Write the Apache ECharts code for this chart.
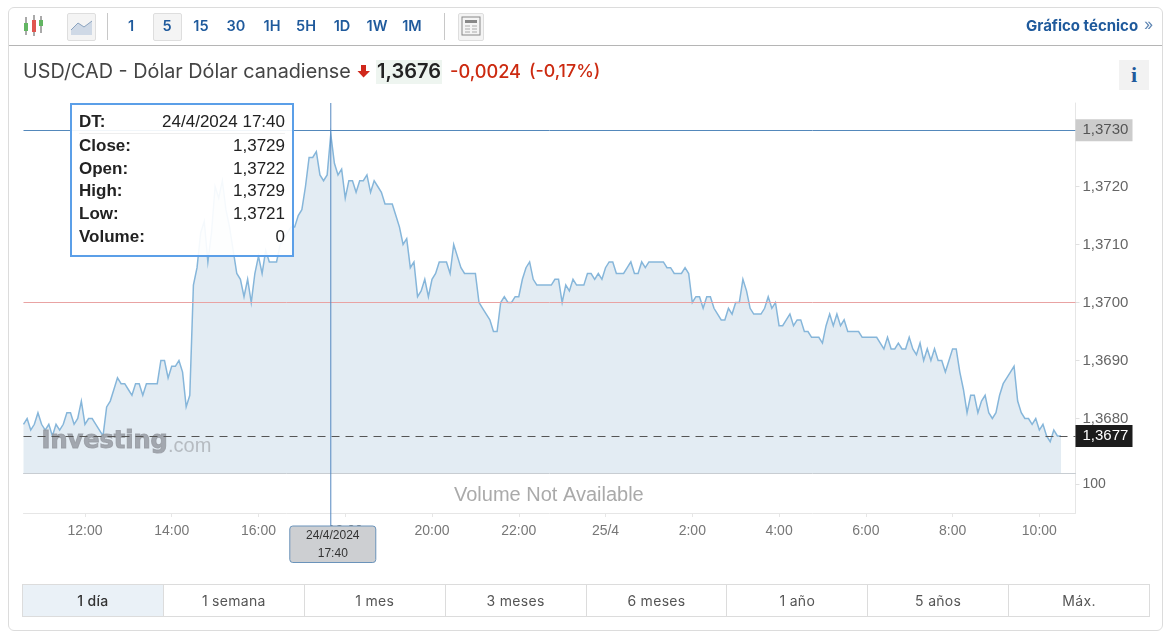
<!DOCTYPE html>
<html>
<head>
<meta charset="utf-8">
<title>USD/CAD</title>
<script src="https://cdn.jsdelivr.net/npm/echarts@6/dist/echarts.min.js"></script>
<style>
  html, body { margin: 0; padding: 0; background: #fff; }
  body { width: 1170px; height: 638px; position: relative; overflow: hidden; font-family: Inter, "Noto Sans", sans-serif; }
  .card { position: absolute; left: 8px; top: 7px; width: 1153px; height: 622px; border: 1px solid #dcdcdc; border-radius: 6px; box-sizing: content-box; pointer-events: none; }
  #chart { position: absolute; left: 0; top: 0; width: 1170px; height: 638px; }
  .abs { position: absolute; }
  .bar-line { position: absolute; left: 9px; top: 45px; width: 1153px; height: 1px; background: #b5b5b5; }
  .sep { position: absolute; top: 13px; width: 1px; height: 27px; background: #c8c8c8; }
  .res { position: absolute; top: 17px; font-size: 14.5px; font-weight: 600; color: #1f5a9c; transform: translateX(-50%); line-height: 18px; }
  .btn { position: absolute; top: 13px; height: 26px; border: 1px solid #dedede; border-radius: 2px; background: #f4f4f4; }
  .title { position: absolute; left: 23px; top: 60px; font-size: 19.8px; color: #444; line-height: 22px; white-space: nowrap; }
  .range { position: absolute; left: 22px; top: 584px; width: 1128px; height: 33px; display: flex; border: 1px solid #dcdcdc; box-sizing: border-box; }
  .range div { flex: 1; border-left: 1px solid #dcdcdc; text-align: center; font-size: 14px; line-height: 31px; color: #555; letter-spacing: .3px; }
  .range div:first-child { border-left: 0; background: #eaf1f7; color: #333; font-weight: 500; }
</style>
</head>
<body>
<div id="chart"></div>
<div class="card"></div>
<div class="bar-line"></div>

<svg class="abs" style="left:22px;top:14px" width="24" height="24">
  <path d="M4 3v18M12 1v21M19 2v17" stroke="#555" stroke-width="1"/>
  <rect x="2" y="9" width="4" height="8" fill="#62b562"/>
  <rect x="10" y="6" width="4" height="12" fill="#e0564f"/>
  <rect x="17" y="6" width="4" height="6" fill="#62b562"/>
</svg>
<div class="btn" style="left:67px;width:27px"></div>
<svg class="abs" style="left:68px;top:14px" width="26" height="24">
  <path d="M3 21V16L10 9L16 13L24 7V21Z" fill="#cfd9e6"/>
  <path d="M3 16L10 9L16 13L24 7" stroke="#8aa3bf" fill="none"/>
</svg>
<div class="sep" style="left:107px"></div>
<div class="btn" style="left:153px;width:27px"></div>
<div class="res" style="left:131px">1</div>
<div class="res" style="left:167px">5</div>
<div class="res" style="left:201px">15</div>
<div class="res" style="left:236px">30</div>
<div class="res" style="left:272px">1H</div>
<div class="res" style="left:306px">5H</div>
<div class="res" style="left:342px">1D</div>
<div class="res" style="left:377px">1W</div>
<div class="res" style="left:412px">1M</div>
<div class="sep" style="left:444px"></div>
<div class="btn" style="left:458px;width:24px"></div>
<svg class="abs" style="left:461px;top:16px" width="20" height="20">
  <rect x="1" y="1" width="18" height="18" fill="#f4f4f4" stroke="#888"/>
  <rect x="4" y="4" width="12" height="3" fill="#888"/>
  <path d="M4 10h5M4 13h5M4 16h5M11 10h5M11 13h5M11 16h5" stroke="#aaa"/>
</svg>
<div class="abs" style="left:1026px;top:17px;font-size:15px;font-weight:700;color:#1f5a9c;line-height:18px">Gráfico técnico</div>
<div class="abs" style="left:1144px;top:15px;font-size:16px;color:#5f86b3;line-height:18px">»</div>

<div class="title">USD/CAD - Dólar Dólar canadiense</div>
<svg class="abs" style="left:357px;top:64px" width="14" height="14"><path d="M4 1h5v6h4L6.5 13.5L0.5 7h3.5z" fill="#d0281c"/></svg>
<div class="abs" style="left:376px;top:60px;width:66px;height:24px;background:#eef5f0;font-size:20px;font-weight:600;color:#222;line-height:22px;text-align:center">1,3676</div>
<div class="abs" style="left:450px;top:60px;font-size:18.2px;font-weight:500;color:#cc2a10;line-height:22px;white-space:nowrap">-0,0024</div>
<div class="abs" style="left:529px;top:60px;font-size:17.8px;font-weight:500;color:#cc2a10;line-height:22px;white-space:nowrap">(-0,17%)</div>
<div class="abs" style="left:1119px;top:60px;width:30px;height:30px;background:#f2f2f2;text-align:center;font:bold 22px/30px 'Liberation Serif',serif;color:#1f5a9c">i</div>

<div class="range">
  <div>1 día</div><div>1 semana</div><div>1 mes</div><div>3 meses</div><div>6 meses</div><div>1 año</div><div>5 años</div><div>Máx.</div>
</div>

<script>
// 5 minute closes, 24/4 10:35 to 25/4 10:30, one row per hour
var closeValues = [
  1.3679, 1.3680, 1.3678, 1.3679, 1.3681, 1.3679, 1.3678, 1.3679, 1.3677, 1.3679, 1.3678, 1.3679,
  1.3681, 1.3681, 1.3679, 1.3680, 1.3683, 1.3679, 1.3680, 1.3680, 1.3679, 1.3678, 1.3677, 1.3682,
  1.3683, 1.3685, 1.3687, 1.3686, 1.3686, 1.3685, 1.3684, 1.3686, 1.3686, 1.3684, 1.3686, 1.3686,
  1.3686, 1.3686, 1.3690, 1.3690, 1.3687, 1.3689, 1.3689, 1.3690, 1.3688, 1.3682, 1.3684, 1.3703,
  1.3706, 1.3712, 1.3714, 1.3707, 1.3712, 1.3720, 1.3718, 1.3721, 1.3716, 1.3713, 1.3709, 1.3705,
  1.3704, 1.3701, 1.3704, 1.3700, 1.3705, 1.3708, 1.3705, 1.3709, 1.3707, 1.3707, 1.3707, 1.3710,
  1.3711, 1.3712, 1.3713, 1.3713, 1.3715, 1.3716, 1.3720, 1.3725, 1.3725, 1.3726, 1.3722, 1.3721,
  1.3722, 1.3729, 1.3724, 1.3722, 1.3723, 1.3718, 1.3721, 1.3721, 1.3719, 1.3721, 1.3721, 1.3722,
  1.3719, 1.3721, 1.3720, 1.3719, 1.3717, 1.3717, 1.3717, 1.3715, 1.3713, 1.3710, 1.3711, 1.3706,
  1.3707, 1.3701, 1.3702, 1.3704, 1.3701, 1.3704, 1.3705, 1.3707, 1.3707, 1.3707, 1.3705, 1.3710,
  1.3708, 1.3706, 1.3705, 1.3705, 1.3705, 1.3705, 1.3700, 1.3699, 1.3698, 1.3697, 1.3695, 1.3695,
  1.3700, 1.3701, 1.3700, 1.3700, 1.3701, 1.3701, 1.3704, 1.3706, 1.3707, 1.3704, 1.3703, 1.3703,
  1.3703, 1.3703, 1.3703, 1.3704, 1.3704, 1.3700, 1.3703, 1.3702, 1.3704, 1.3703, 1.3703, 1.3703,
  1.3705, 1.3705, 1.3704, 1.3705, 1.3704, 1.3706, 1.3707, 1.3707, 1.3705, 1.3705, 1.3705, 1.3706,
  1.3707, 1.3705, 1.3705, 1.3707, 1.3706, 1.3707, 1.3707, 1.3707, 1.3707, 1.3707, 1.3706, 1.3706,
  1.3705, 1.3705, 1.3705, 1.3706, 1.3705, 1.3700, 1.3701, 1.3701, 1.3699, 1.3701, 1.3701, 1.3699,
  1.3698, 1.3697, 1.3697, 1.3699, 1.3698, 1.3700, 1.3700, 1.3704, 1.3702, 1.3699, 1.3698, 1.3698,
  1.3698, 1.3699, 1.3701, 1.3699, 1.3700, 1.3696, 1.3696, 1.3697, 1.3698, 1.3696, 1.3697, 1.3697,
  1.3695, 1.3695, 1.3694, 1.3694, 1.3694, 1.3693, 1.3696, 1.3698, 1.3696, 1.3698, 1.3696, 1.3697,
  1.3695, 1.3695, 1.3695, 1.3695, 1.3694, 1.3694, 1.3694, 1.3694, 1.3694, 1.3693, 1.3692, 1.3694,
  1.3692, 1.3692, 1.3693, 1.3692, 1.3692, 1.3694, 1.3692, 1.3691, 1.3693, 1.3690, 1.3692, 1.3690,
  1.3692, 1.3690, 1.3690, 1.3688, 1.3690, 1.3692, 1.3692, 1.3688, 1.3685, 1.3681, 1.3684, 1.3684,
  1.3681, 1.3683, 1.3684, 1.3681, 1.3680, 1.3681, 1.3684, 1.3686, 1.3687, 1.3688, 1.3689, 1.3683,
  1.3681, 1.3680, 1.3680, 1.3679, 1.3680, 1.3678, 1.3679, 1.3677, 1.3676, 1.3678, 1.3677, 1.3677
];
var priceTicks = [1.368, 1.369, 1.370, 1.371, 1.372];
var volumeTicks = [100];
var tipRows = [['Close:', '1,3729'], ['Open:', '1,3722'], ['High:', '1,3729'], ['Low:', '1,3721'], ['Volume:', '0']];
var hoverIndex = 85;     // 24/4 17:40
var hoverPrice = 1.37297;
var lastPrice = 1.3677;
var refPrice = 1.37;

// time slots, the axis runs a few bars past the last close
var categories = [];
for (var m = 10 * 60 + 35; m <= 24 * 60 + 10 * 60 + 50; m += 5) {
  var h = Math.floor(m / 60);
  var mm = m % 60;
  categories.push((h < 24 ? '24/4 ' + h : '25/4 ' + (h - 24)) + ':' + (mm < 10 ? '0' + mm : mm));
}

function isLabelSlot(index, value) {
  var t = value.split(' ')[1].split(':');
  return t[1] === '00' && Number(t[0]) % 2 === 0;
}
function priceText(v) {
  return v.toFixed(4).replace('.', ',');
}

var axisFont = 'Liberation Sans';
var tipHtml = '<div style="display:flex;justify-content:space-between;height:23px;line-height:23px;border-bottom:1px solid #eee"><b>DT:</b><span>24/4/2024 17:40</span></div>' +
  tipRows.map(function (r) {
    return '<div style="display:flex;justify-content:space-between;height:22.7px;line-height:23px"><b>' + r[0] + '</b><span>' + r[1] + '</span></div>';
  }).join('');

var myChart = echarts.init(document.getElementById('chart'));
var option = {
  animation: false,
  grid: [
    { left: 23.5, width: 1052, top: 103, height: 370 },
    { left: 23.5, width: 1052, top: 473, height: 40 }
  ],
  tooltip: {
    trigger: 'item',
    alwaysShowContent: true,
    transitionDuration: 0,
    position: [70, 103],
    backgroundColor: 'rgba(255,255,255,0.92)',
    borderColor: '#5b9fe8',
    borderWidth: 2,
    padding: [5, 7, 5, 7],
    extraCssText: 'box-shadow:none;border-radius:0;width:224px;height:154px;box-sizing:border-box;',
    textStyle: { fontFamily: axisFont, fontSize: 17, color: '#222' },
    formatter: function () { return tipHtml; }
  },
  xAxis: [
    {
      type: 'category', gridIndex: 0, data: categories, boundaryGap: false,
      axisLine: { lineStyle: { color: '#c8cdd2' } },
      axisTick: { show: false }, axisLabel: { show: false }, splitLine: { show: false }
    },
    {
      type: 'category', gridIndex: 1, data: categories, boundaryGap: false,
      axisLine: { lineStyle: { color: '#e6e6e6' } },
      axisTick: { interval: isLabelSlot, length: 4, lineStyle: { color: '#e6e6e6' } },
      axisLabel: {
        interval: isLabelSlot, margin: 11, fontFamily: axisFont, fontSize: 14, color: '#777',
        formatter: function (value) {
          var t = value.split(' ')[1];
          return t === '0:00' ? '25/4' : t;
        }
      },
      splitLine: { show: false }
    }
  ],
  yAxis: [
    {
      type: 'value', gridIndex: 0, position: 'right', min: 1.36706, max: 1.37344,
      axisLine: { show: true, lineStyle: { color: '#e6e6e6' } },
      axisTick: { show: true, length: 4, customValues: priceTicks, lineStyle: { color: '#e0e0e0' } },
      axisLabel: { customValues: priceTicks, margin: 7, fontFamily: axisFont, fontSize: 15, color: '#666', formatter: priceText },
      splitLine: { show: false }
    },
    {
      type: 'value', gridIndex: 1, position: 'right', min: 0, max: 138,
      axisLine: { show: true, lineStyle: { color: '#e6e6e6' } },
      axisTick: { show: true, length: 4, customValues: volumeTicks, lineStyle: { color: '#e0e0e0' } },
      axisLabel: { customValues: volumeTicks, margin: 7, fontFamily: axisFont, fontSize: 14, color: '#666' },
      splitLine: { show: false }
    }
  ],
  series: [
    {
      name: 'USD/CAD',
      type: 'line',
      xAxisIndex: 0,
      yAxisIndex: 0,
      data: closeValues,
      // invisible symbols, showTip needs an element to anchor on
      showSymbol: true,
      showAllSymbol: true,
      symbol: 'circle',
      symbolSize: 0.1,
      itemStyle: { opacity: 0 },
      lineStyle: { color: '#86b6da', width: 1.5, join: 'miter', miterLimit: 10 },
      areaStyle: { color: '#e3ecf3', origin: 'start', opacity: 1 },
      markLine: {
        silent: true,
        symbol: 'none',
        animation: false,
        precision: 5,
        data: [
          {
            yAxis: refPrice,
            lineStyle: { color: '#e9a3a3', type: 'solid', width: 1 },
            label: { show: false }
          },
          {
            yAxis: hoverPrice,
            lineStyle: { color: '#5488bb', type: 'solid', width: 1 },
            label: {
              show: true, position: 'end', distance: 0, formatter: '1,3730',
              backgroundColor: '#cccccc', color: '#555', fontFamily: axisFont, fontSize: 15,
              padding: [4, 6, 3, 7], width: 44
            }
          },
          {
            yAxis: lastPrice,
            lineStyle: { color: '#555', type: [8, 6], width: 1.2 },
            label: {
              show: true, position: 'end', distance: 0, formatter: priceText(lastPrice),
              backgroundColor: '#1c1c1c', color: '#fff', fontFamily: axisFont, fontSize: 15,
              padding: [4, 6, 3, 7], width: 44
            }
          }
        ]
      }
    }
  ],
  graphic: [
    {
      type: 'text', z: 4, left: 41, top: 429,
      style: { text: 'Investing', font: 'bold 24px "DejaVu Sans"', fill: 'rgba(150,155,162,0.85)', stroke: 'rgba(150,155,162,0.85)', lineWidth: 1 }
    },
    {
      type: 'text', z: 4, left: 168, top: 436,
      style: { text: '.com', font: '20px "Liberation Sans"', fill: 'rgba(170,175,180,0.8)' }
    },
    {
      type: 'text', left: 454, top: 485,
      style: { text: 'Volume Not Available', font: '20px "Liberation Sans"', fill: '#aaaaaa' }
    }
  ]
};
myChart.setOption(option, true);

// crosshair through both panes and its date box, placed from the axis scale
var hoverX = myChart.convertToPixel({ xAxisIndex: 1 }, hoverIndex);
myChart.setOption({
  graphic: option.graphic.concat([
    {
      type: 'line', z: 10,
      shape: { x1: hoverX, y1: 103, x2: hoverX, y2: 526 },
      style: { stroke: '#5488c0', lineWidth: 1 }
    },
    {
      type: 'rect', z: 11,
      shape: { x: hoverX - 41, y: 526, width: 86, height: 36.5, r: 3 },
      style: { fill: '#cdcfd2', stroke: '#6a93ba', lineWidth: 1 }
    },
    {
      type: 'text', z: 12, x: hoverX + 2, y: 545,
      style: { text: '24/4/2024\n17:40', font: '12px "Liberation Sans"', fill: '#333', align: 'center', verticalAlign: 'middle', lineHeight: 18 }
    }
  ])
});

myChart.dispatchAction({ type: 'showTip', seriesIndex: 0, dataIndex: hoverIndex });
</script>
</body>
</html>
